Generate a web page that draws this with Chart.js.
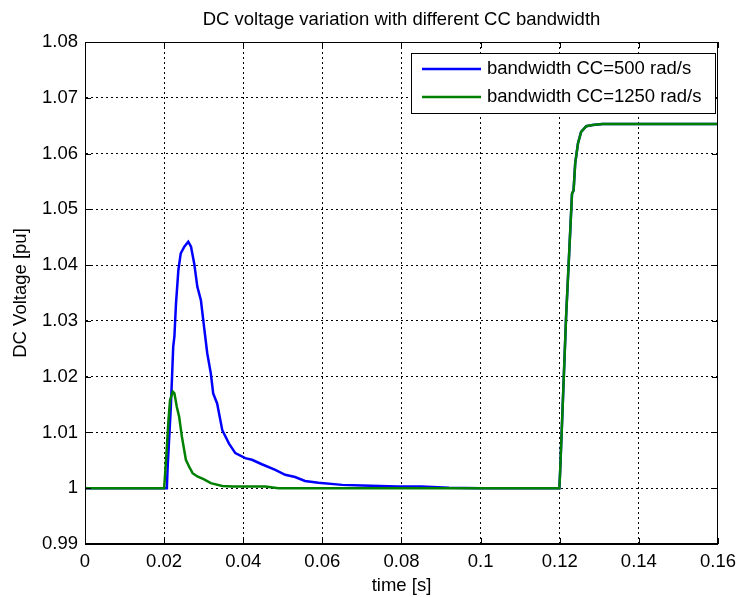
<!DOCTYPE html>
<html>
<head>
<meta charset="utf-8">
<script src="https://cdn.jsdelivr.net/npm/chart.js@4/dist/chart.umd.min.js"></script>
<style>
  html, body { margin: 0; padding: 0; background: #fff; }
  #wrap { width: 743px; height: 597px; }
</style>
</head>
<body>
<div id="wrap"><canvas id="c" width="743" height="597"></canvas></div>
<script>
// ---- data ----
const titleText = "DC voltage variation with different CC bandwidth";
const xAxisTitle = "time [s]";
const yAxisTitle = "DC Voltage [pu]";
const seriesNames = ["bandwidth CC=500 rad/s", "bandwidth CC=1250 rad/s"];

const xTickValues = [0, 0.02, 0.04, 0.06, 0.08, 0.1, 0.12, 0.14, 0.16];
const xTickLabels = ["0", "0.02", "0.04", "0.06", "0.08", "0.1", "0.12", "0.14", "0.16"];
const yTickValues = [0.99, 1.0, 1.01, 1.02, 1.03, 1.04, 1.05, 1.06, 1.07, 1.08];
const yTickLabels = ["0.99", "1", "1.01", "1.02", "1.03", "1.04", "1.05", "1.06", "1.07", "1.08"];

const tBlue = [0, 0.0205, 0.0207, 0.0209, 0.0217, 0.0221, 0.0223, 0.0226, 0.0230, 0.0236, 0.0242,
  0.0251, 0.0261, 0.0268, 0.0276, 0.0284, 0.0293, 0.0301, 0.0309, 0.0318, 0.0324, 0.0334, 0.0347,
  0.0364, 0.0380, 0.0405, 0.0422, 0.0447, 0.0481, 0.0506, 0.0531, 0.0556, 0.0590, 0.0650, 0.0700,
  0.0790, 0.0850, 0.0920, 0.1000, 0.1199, 0.1201, 0.1208, 0.1216, 0.1225, 0.1231, 0.1235, 0.1239,
  0.1246, 0.1254, 0.1267, 0.1283, 0.1308, 0.16];
const vBlue = [1.0, 1.0, 1.0003, 1.0039, 1.0146, 1.0218, 1.0254, 1.0272, 1.0331, 1.0391, 1.0421,
  1.0433, 1.0442, 1.0433, 1.0403, 1.0361, 1.0337, 1.0289, 1.0242, 1.0206, 1.0170, 1.0152, 1.0104,
  1.0080, 1.0063, 1.0054, 1.0051, 1.0043, 1.0033, 1.0024, 1.0020, 1.0013, 1.0010, 1.0006, 1.0005,
  1.0003, 1.0003, 1.0001, 1.0, 1.0, 1.0030, 1.0158, 1.0307, 1.0439, 1.0528, 1.0534, 1.0582,
  1.0618, 1.0639, 1.0649, 1.0651, 1.0653, 1.0653];

const tGreen = [0, 0.0200, 0.0206, 0.0211, 0.0215, 0.0222, 0.0226, 0.0232, 0.0238, 0.0245, 0.0255,
  0.0263, 0.0272, 0.0284, 0.0301, 0.0318, 0.0347, 0.0372, 0.0456, 0.0489, 0.1199, 0.1201, 0.1208,
  0.1216, 0.1225, 0.1231, 0.1235, 0.1239, 0.1246, 0.1254, 0.1267, 0.1283, 0.1308, 0.16];
const vGreen = [1.0, 1.0, 1.0063, 1.0122, 1.0158, 1.0173, 1.0170, 1.0146, 1.0128, 1.0092, 1.0051,
  1.0039, 1.0027, 1.0021, 1.0016, 1.0009, 1.0004, 1.0003, 1.0003, 1.0, 1.0, 1.0030, 1.0158,
  1.0307, 1.0439, 1.0528, 1.0534, 1.0582, 1.0618, 1.0639, 1.0649, 1.0651, 1.0653, 1.0653];

const seriesColors = ["#0000ff", "#008000"];

// ---- chart ----
const FONT = "'Liberation Sans', Arial, Helvetica, sans-serif";
const FS = 18.5;

function pts(ts, vs) { return ts.map((t, i) => ({ x: t, y: vs[i] })); }

const frameAndLegend = {
  id: 'frameAndLegend',
  afterDraw(chart) {
    const ctx = chart.ctx;
    const a = chart.chartArea;
    const xs = chart.scales.x, ys = chart.scales.y;
    ctx.save();
    // title, centred over the plot area
    ctx.font = FS + 'px ' + FONT;
    ctx.fillStyle = '#000';
    ctx.textAlign = 'center';
    ctx.textBaseline = 'middle';
    ctx.fillText(titleText, (a.left + a.right) / 2, 20);
    // box
    ctx.strokeStyle = '#000';
    ctx.lineWidth = 1;
    ctx.setLineDash([]);
    ctx.strokeRect(Math.round(a.left) + 0.5, Math.round(a.top) + 0.5,
      Math.round(a.right - a.left) - 1, Math.round(a.bottom - a.top) - 1);
    // inner tick marks
    const TL = 6;
    ctx.beginPath();
    xTickValues.forEach(v => {
      const px = Math.round(xs.getPixelForValue(v)) + 0.5;
      ctx.moveTo(px, a.bottom); ctx.lineTo(px, a.bottom - TL);
      ctx.moveTo(px, a.top); ctx.lineTo(px, a.top + TL);
    });
    yTickValues.forEach(v => {
      const py = Math.round(ys.getPixelForValue(v)) + 0.5;
      ctx.moveTo(a.left, py); ctx.lineTo(a.left + TL, py);
      ctx.moveTo(a.right, py); ctx.lineTo(a.right - TL, py);
    });
    ctx.stroke();

    // legend
    const bx = 411, by = 53, bw = 304, bh = 60;
    ctx.fillStyle = '#fff';
    ctx.fillRect(bx, by, bw, bh);
    ctx.strokeStyle = '#000';
    ctx.lineWidth = 1;
    ctx.strokeRect(bx + 0.5, by + 0.5, bw, bh);
    const rows = [69, 97];
    ctx.font = FS + 'px ' + FONT;
    ctx.textBaseline = 'middle';
    ctx.textAlign = 'left';
    chart.data.datasets.forEach((ds, i) => {
      const y = rows[i];
      ctx.strokeStyle = ds.borderColor;
      ctx.lineWidth = 2.5;
      ctx.beginPath();
      ctx.moveTo(422, y); ctx.lineTo(481, y);
      ctx.stroke();
      ctx.fillStyle = '#000';
      ctx.fillText(ds.label, 487, y);
    });
    ctx.restore();
  }
};

new Chart(document.getElementById('c'), {
  type: 'line',
  data: {
    datasets: [
      { label: seriesNames[0], data: pts(tBlue, vBlue), borderColor: seriesColors[0],
        backgroundColor: seriesColors[0], borderWidth: 2.5, pointRadius: 0, tension: 0, order: 1 },
      { label: seriesNames[1], data: pts(tGreen, vGreen), borderColor: seriesColors[1],
        backgroundColor: seriesColors[1], borderWidth: 2.5, pointRadius: 0, tension: 0, order: 0 }
    ]
  },
  options: {
    responsive: false,
    animation: false,
    devicePixelRatio: 1,
    layout: { padding: { left: 0, right: 20, top: 42, bottom: 0 } },
    plugins: {
      legend: { display: false },
      tooltip: { enabled: false },
      title: { display: false }
    },
    scales: {
      x: {
        type: 'linear', min: 0, max: 0.16,
        afterBuildTicks: s => { s.ticks = xTickValues.map(v => ({ value: v })); },
        afterFit: s => { s.height = 53; },
        ticks: {
          color: '#000', padding: 7, maxRotation: 0, autoSkip: false,
          font: { family: FONT, size: FS },
          callback: (v, i) => xTickLabels[i]
        },
        grid: { color: '#000', lineWidth: 1, drawTicks: false },
        border: { display: true, color: '#000', width: 1, dash: [2, 3] },
        title: { display: true, text: xAxisTitle, color: '#000',
          font: { family: FONT, size: FS }, padding: { top: 0, bottom: 0 } }
      },
      y: {
        type: 'linear', min: 0.99, max: 1.08,
        afterBuildTicks: s => { s.ticks = yTickValues.map(v => ({ value: v })); },
        afterFit: s => { s.width = 85; },
        ticks: {
          color: '#000', padding: 7, autoSkip: false,
          font: { family: FONT, size: FS },
          callback: (v, i) => yTickLabels[i]
        },
        grid: { color: '#000', lineWidth: 1, drawTicks: false },
        border: { display: true, color: '#000', width: 1, dash: [2, 3] },
        title: { display: true, text: yAxisTitle, color: '#000',
          font: { family: FONT, size: FS }, padding: { top: 10, bottom: 0 } }
      }
    }
  },
  plugins: [frameAndLegend]
});
</script>
</body>
</html>
